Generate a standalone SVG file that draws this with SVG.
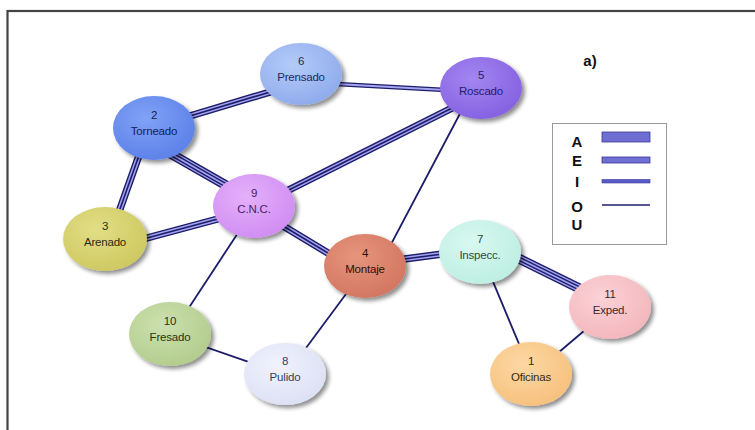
<svg xmlns="http://www.w3.org/2000/svg" xmlns:xlink="http://www.w3.org/1999/xlink" width="755" height="430" viewBox="0 0 755 430">
  <style>
    .lbl { font-family: "Liberation Sans", Arial, sans-serif; font-size: 11.5px; text-anchor: middle; letter-spacing: -0.2px; }
    .leg { font-family: "Liberation Sans", Arial, sans-serif; font-size: 15px; font-weight: bold; text-anchor: middle; fill: #111; }
    .dk { stroke: #1c1c6a; fill: none; }
    .lt { stroke: #a4a4f0; fill: none; }
    /* A: four parallel lines */
    .a1 { stroke-width: 10; } .a2 { stroke-width: 7.2; } .a3 { stroke-width: 4.4; } .a4 { stroke-width: 1.6; }
    /* E: three parallel lines */
    .e1 { stroke-width: 7.4; } .e2 { stroke-width: 4.6; } .e3 { stroke-width: 1.6; }
    /* I: two parallel lines */
    .i1 { stroke-width: 4.6; } .i2 { stroke-width: 1.8; }
    /* O: single line */
    .o1 { stroke-width: 1.8; }
    .node ellipse.body { filter: url(#shadow); }
  </style>
  <defs>
    <filter id="shadow" x="-30%" y="-30%" width="170%" height="170%">
      <feGaussianBlur in="SourceAlpha" stdDeviation="2"/>
      <feOffset dx="3" dy="3" result="b"/>
      <feComponentTransfer><feFuncA type="linear" slope="0.45"/></feComponentTransfer>
      <feMerge><feMergeNode/><feMergeNode in="SourceGraphic"/></feMerge>
    </filter>
    <radialGradient id="gPrensado" cx="40%" cy="35%" r="70%"><stop offset="0" stop-color="#b4cbf8"/><stop offset="1" stop-color="#8eaaec"/></radialGradient>
    <radialGradient id="gTorneado" cx="40%" cy="35%" r="70%"><stop offset="0" stop-color="#80a2f6"/><stop offset="1" stop-color="#5b80e8"/></radialGradient>
    <radialGradient id="gRoscado" cx="40%" cy="35%" r="70%"><stop offset="0" stop-color="#a386f0"/><stop offset="1" stop-color="#8460e0"/></radialGradient>
    <radialGradient id="gCNC" cx="40%" cy="35%" r="70%"><stop offset="0" stop-color="#e4b0fa"/><stop offset="1" stop-color="#cf8cf2"/></radialGradient>
    <radialGradient id="gArenado" cx="40%" cy="35%" r="70%"><stop offset="0" stop-color="#e2de86"/><stop offset="1" stop-color="#cdc860"/></radialGradient>
    <radialGradient id="gMontaje" cx="40%" cy="35%" r="70%"><stop offset="0" stop-color="#e6957c"/><stop offset="1" stop-color="#d27560"/></radialGradient>
    <radialGradient id="gInspecc" cx="40%" cy="35%" r="70%"><stop offset="0" stop-color="#d8f8f0"/><stop offset="1" stop-color="#bdeee2"/></radialGradient>
    <radialGradient id="gExped" cx="40%" cy="35%" r="70%"><stop offset="0" stop-color="#fad2d6"/><stop offset="1" stop-color="#f3b6bc"/></radialGradient>
    <radialGradient id="gOficinas" cx="40%" cy="35%" r="70%"><stop offset="0" stop-color="#fcd8a4"/><stop offset="1" stop-color="#f6c07c"/></radialGradient>
    <radialGradient id="gFresado" cx="40%" cy="35%" r="70%"><stop offset="0" stop-color="#cce0ae"/><stop offset="1" stop-color="#b2cc8c"/></radialGradient>
    <radialGradient id="gPulido" cx="40%" cy="35%" r="70%"><stop offset="0" stop-color="#f0f2fc"/><stop offset="1" stop-color="#dce0f4"/></radialGradient>

    <!-- connector geometry -->
    <line id="p2-6" x1="160" y1="125" x2="300" y2="83"/>
    <line id="p6-5" x1="300" y1="82" x2="482" y2="92"/>
    <line id="p2-3" x1="148" y1="130" x2="109" y2="240"/>
    <line id="p2-9" x1="145" y1="139" x2="255" y2="202"/>
    <line id="p9-5" x1="255" y1="207" x2="482" y2="93"/>
    <line id="p9-3" x1="106" y1="249" x2="255" y2="209"/>
    <line id="p9-4" x1="255" y1="209" x2="366" y2="276"/>
    <line id="p4-7" x1="366" y1="264" x2="481" y2="249"/>
    <line id="p7-11" x1="481" y1="240" x2="611" y2="304"/>
    <line id="p5-4" x1="473" y1="89" x2="379" y2="267"/>
    <line id="p9-10" x1="255" y1="207" x2="171" y2="335"/>
    <line id="p10-8" x1="171" y1="335" x2="286" y2="375"/>
    <line id="p4-8" x1="366" y1="267" x2="286" y2="375"/>
    <line id="p7-1" x1="481" y1="253" x2="532" y2="375"/>
    <line id="p11-1" x1="611" y1="308" x2="532" y2="375"/>
  </defs>

  <rect width="755" height="430" fill="#ffffff"/>
  <!-- outer frame -->
  <rect x="7.5" y="11" width="760" height="430" fill="none" stroke="#444" stroke-width="2.2"/>

  <g id="connectors">
    <!-- A -->
    <g><use href="#p2-9" class="dk a1"/><use href="#p2-9" class="lt a2"/><use href="#p2-9" class="dk a3"/><use href="#p2-9" class="lt a4"/></g>
    <g><use href="#p7-11" class="dk a1"/><use href="#p7-11" class="lt a2"/><use href="#p7-11" class="dk a3"/><use href="#p7-11" class="lt a4"/></g>
    <!-- E -->
    <g><use href="#p9-4" class="dk e1"/><use href="#p9-4" class="lt e2"/><use href="#p9-4" class="dk e3"/></g>
    <g><use href="#p4-7" class="dk e1"/><use href="#p4-7" class="lt e2"/><use href="#p4-7" class="dk e3"/></g>
    <g><use href="#p2-6" class="dk e1"/><use href="#p2-6" class="lt e2"/><use href="#p2-6" class="dk e3"/></g>
    <g><use href="#p2-3" class="dk e1"/><use href="#p2-3" class="lt e2"/><use href="#p2-3" class="dk e3"/></g>
    <g><use href="#p9-5" class="dk e1"/><use href="#p9-5" class="lt e2"/><use href="#p9-5" class="dk e3"/></g>
    <g><use href="#p9-3" class="dk e1"/><use href="#p9-3" class="lt e2"/><use href="#p9-3" class="dk e3"/></g>
    <!-- I -->
    <g><use href="#p6-5" class="dk i1"/><use href="#p6-5" class="lt i2"/></g>
    <!-- O -->
    <use href="#p5-4" class="dk o1"/>
    <use href="#p9-10" class="dk o1"/>
    <use href="#p10-8" class="dk o1"/>
    <use href="#p4-8" class="dk o1"/>
    <use href="#p7-1" class="dk o1"/>
    <use href="#p11-1" class="dk o1"/>
  </g>

  <g id="node-6" class="node">
    <ellipse class="body" cx="301" cy="74" rx="41" ry="31" fill="url(#gPrensado)"/>
    <text class="lbl" x="301" y="65" fill="#1e2a60">6</text>
    <text class="lbl" x="301" y="81" fill="#1e2a60">Prensado</text>
  </g>
  <g id="node-2" class="node">
    <ellipse class="body" cx="154" cy="128" rx="41" ry="32" fill="url(#gTorneado)"/>
    <text class="lbl" x="154" y="119" fill="#14205a">2</text>
    <text class="lbl" x="154" y="135" fill="#14205a">Torneado</text>
  </g>
  <g id="node-5" class="node">
    <ellipse class="body" cx="481" cy="88" rx="41" ry="31" fill="url(#gRoscado)"/>
    <text class="lbl" x="481" y="79" fill="#2a1a6a">5</text>
    <text class="lbl" x="481" y="95" fill="#2a1a6a">Roscado</text>
  </g>
  <g id="node-9" class="node">
    <ellipse class="body" cx="254" cy="206" rx="41" ry="32" fill="url(#gCNC)"/>
    <text class="lbl" x="254" y="197" fill="#4a1a6a">9</text>
    <text class="lbl" x="254" y="213" fill="#4a1a6a">C.N.C.</text>
  </g>
  <g id="node-3" class="node">
    <ellipse class="body" cx="105" cy="239" rx="42" ry="32" fill="url(#gArenado)"/>
    <text class="lbl" x="105" y="230" fill="#2e2a10">3</text>
    <text class="lbl" x="105" y="246" fill="#2e2a10">Arenado</text>
  </g>
  <g id="node-4" class="node">
    <ellipse class="body" cx="365" cy="266" rx="41" ry="32" fill="url(#gMontaje)"/>
    <text class="lbl" x="365" y="257" fill="#2a1208">4</text>
    <text class="lbl" x="365" y="273" fill="#2a1208">Montaje</text>
  </g>
  <g id="node-7" class="node">
    <ellipse class="body" cx="480" cy="252" rx="41" ry="32" fill="url(#gInspecc)"/>
    <text class="lbl" x="480" y="243" fill="#2a4a44">7</text>
    <text class="lbl" x="480" y="259" fill="#2a4a44">Inspecc.</text>
  </g>
  <g id="node-11" class="node">
    <ellipse class="body" cx="610" cy="307" rx="41" ry="32" fill="url(#gExped)"/>
    <text class="lbl" x="610" y="298" fill="#3a2a2a">11</text>
    <text class="lbl" x="610" y="314" fill="#3a2a2a">Exped.</text>
  </g>
  <g id="node-1" class="node">
    <ellipse class="body" cx="531" cy="374" rx="41" ry="32" fill="url(#gOficinas)"/>
    <text class="lbl" x="531" y="365" fill="#3a2a10">1</text>
    <text class="lbl" x="531" y="381" fill="#3a2a10">Oficinas</text>
  </g>
  <g id="node-10" class="node">
    <ellipse class="body" cx="170" cy="334" rx="41" ry="32" fill="url(#gFresado)"/>
    <text class="lbl" x="170" y="325" fill="#2a3418">10</text>
    <text class="lbl" x="170" y="341" fill="#2a3418">Fresado</text>
  </g>
  <g id="node-8" class="node">
    <ellipse class="body" cx="285" cy="374" rx="41" ry="31" fill="url(#gPulido)"/>
    <text class="lbl" x="285" y="365" fill="#3a3e5a">8</text>
    <text class="lbl" x="285" y="381" fill="#3a3e5a">Pulido</text>
  </g>

  <text x="590" y="66" class="leg" font-size="13">a)</text>

  <g id="legend">
    <rect x="552.5" y="123.5" width="114" height="121" fill="#ffffff" stroke="#999" stroke-width="1"/>
    <text class="leg" x="577" y="147">A</text>
    <text class="leg" x="577" y="166">E</text>
    <text class="leg" x="577" y="187">I</text>
    <text class="leg" x="577" y="212">O</text>
    <text class="leg" x="577" y="230">U</text>
    <rect x="602" y="132" width="48" height="10" fill="#6e6ed2" stroke="#3a3a9a" stroke-width="0.8"/>
    <rect x="602" y="157" width="48" height="6" fill="#6e6ed2" stroke="#3a3a9a" stroke-width="0.8"/>
    <rect x="602" y="179.5" width="48" height="3.5" fill="#5a5ac8" stroke="#3a3a9a" stroke-width="0.6"/>
    <line x1="602" y1="205" x2="650" y2="205" stroke="#1c1c6a" stroke-width="1.5"/>
  </g>
</svg>
